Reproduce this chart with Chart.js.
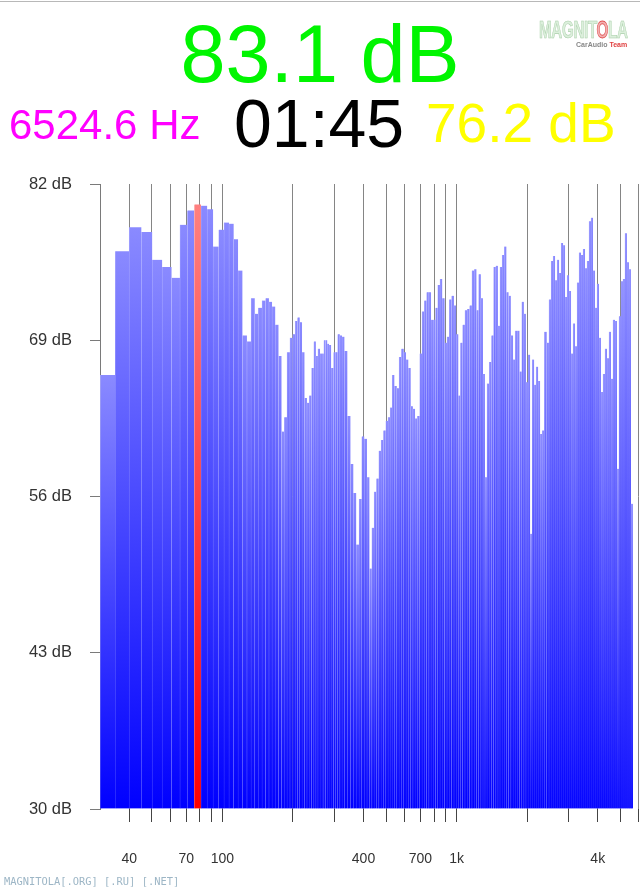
<!DOCTYPE html>
<html>
<head>
<meta charset="utf-8">
<script src="https://cdn.jsdelivr.net/npm/chart.js@4.4.1/dist/chart.umd.min.js"></script>
<style>
  html, body { margin:0; padding:0; background:#fff; width:640px; height:892px; overflow:hidden; }
  body { position:relative; font-family:"Liberation Sans", Arial, Helvetica, sans-serif; }
  #wrap { position:absolute; left:0; top:0; width:640px; height:892px; }
  .t { position:absolute; white-space:nowrap; line-height:1; }
  #topline { position:absolute; left:0; top:1px; width:640px; height:1px; background:#b8b8b8; }
  #peak { left:0; width:640px; text-align:center; top:14px; font-size:81px; color:#00f500; }
  #freq { left:9px; top:104px; font-size:42px; color:#ff00ff; }
  #time { left:234px; top:89px; font-size:68px; color:#000; }
  #avg { left:426px; top:96px; font-size:55px; color:#ffff00; }
  #logo { position:absolute; left:539px; top:18px; width:90px; height:34px; }
  #logo .name { position:absolute; left:0; top:1px; font-family:"Liberation Sans Narrow","Liberation Sans",Arial,sans-serif; font-weight:bold; font-size:23px; line-height:1; color:#dcefdc; -webkit-text-stroke:0.6px #a9cfa9; transform:scaleX(0.66); transform-origin:left top; letter-spacing:-0.5px; }
  #logo .name .o { color:#f2b0b0; -webkit-text-stroke:0.8px #e05050; }
  #logo .team { position:absolute; left:37px; top:23px; font-size:7px; font-weight:bold; color:#888; line-height:1; }
  #logo .team b { color:#e04040; }
  #wm { left:4px; top:876px; font-family:"DejaVu Sans Mono", monospace; font-size:10.4px; color:#9db6c6; }
</style>
</head>
<body>
<div id="wrap"><canvas id="c"></canvas></div>
<div id="topline"></div>
<div class="t" id="peak">83.1 dB</div>
<div class="t" id="freq">6524.6 Hz</div>
<div class="t" id="time">01:45</div>
<div class="t" id="avg">76.2 dB</div>
<div id="logo"><div class="name">MAGNIT<span class="o">O</span>LA</div><div class="team">CarAudio <b>Team</b></div></div>
<div class="t" id="wm">MAGNITOLA[.ORG] [.RU] [.NET]</div>
<script>
// ---- data ----
const freqs = [
  32.4, 37.5, 42.6, 47.7, 52.7, 58.0, 63.4, 68.4, 73.4, 78.5,
  83.5, 88.7, 93.8, 99.0, 104.1, 109.2, 114.1, 119.1, 124.4, 130.0,
  135.0, 139.7, 144.9, 150.2, 155.5, 160.3, 165.4, 170.8, 176.3, 181.2,
  186.1, 191.2, 197.0, 202.2, 206.8, 211.4, 216.0, 221.3, 226.8, 232.0,
  237.3, 243.0, 248.0, 252.9, 258.2, 263.6, 268.5, 273.3, 277.9, 282.6,
  287.6, 294.5, 301.8, 307.1, 313.5, 320.4, 327.4, 336.2, 346.9, 357.2,
  367.2, 377.8, 388.3, 398.0, 408.6, 419.2, 429.2, 439.0, 449.0, 459.7,
  470.2, 480.9, 492.4, 503.6, 514.6, 524.8, 535.7, 548.5, 561.0, 573.8,
  587.5, 600.9, 614.6, 629.2, 643.0, 657.0, 671.3, 687.3, 703.0, 719.0,
  736.1, 752.2, 768.6, 785.4, 803.4, 820.9, 838.8, 858.0, 877.5, 898.5,
  918.9, 939.9, 962.3, 984.2, 1006.7, 1026.6, 1048.0, 1071.9, 1096.4, 1122.5,
  1148.1, 1174.3, 1202.3, 1227.3, 1254.1, 1281.5, 1306.9, 1332.8, 1360.5, 1393.0,
  1422.0, 1453.0, 1484.7, 1514.1, 1545.6, 1579.3, 1613.8, 1647.4, 1683.3, 1721.8,
  1759.3, 1794.2, 1833.3, 1875.2, 1916.1, 1954.1, 1994.7, 2038.2, 2078.6, 2119.8,
  2161.8, 2204.6, 2248.3, 2292.9, 2338.3, 2396.4, 2448.7, 2504.6, 2554.2, 2604.8,
  2656.4, 2709.1, 2762.8, 2817.5, 2873.3, 2930.3, 2988.4, 3047.5, 3107.9, 3169.4,
  3232.2, 3296.3, 3361.6, 3428.2, 3496.2, 3565.5, 3636.1, 3708.2, 3781.7, 3856.6,
  3933.0, 4011.0, 4090.5, 4171.5, 4254.2, 4338.5, 4424.5, 4512.2, 4601.6, 4692.8,
  4785.8, 4880.6, 4977.3, 5075.6, 5176.2, 5278.8, 5383.4, 5490.1, 5598.9
];
const levels = [
  66.1, 76.4, 78.4, 78.0, 75.7, 75.1, 74.2, 78.6, 79.8, 80.3,
  80.2, 79.9, 76.8, 78.2, 78.8, 78.7, 77.4, 74.8, 69.4, 68.9,
  72.5, 71.2, 71.7, 72.3, 72.5, 72.2, 71.8, 70.3, 67.7, 61.4,
  62.6, 68.0, 69.2, 69.5, 70.6, 70.9, 70.5, 68.0, 64.2, 63.8,
  64.4, 66.7, 68.9, 67.7, 68.3, 67.9, 67.9, 69.0, 69.0, 68.7,
  68.6, 66.7, 68.0, 68.0, 69.5, 69.4, 69.3, 68.1, 62.7, 58.7,
  56.3, 52.0, 55.8, 61.0, 60.8, 57.6, 50.0, 53.4, 56.4, 57.5,
  59.8, 60.7, 61.5, 62.3, 62.6, 63.4, 66.1, 65.2, 65.0, 67.6,
  68.3, 68.0, 67.4, 66.7, 63.5, 63.3, 62.5, 62.7, 67.9, 71.4,
  72.3, 73.0, 73.0, 70.7, 70.7, 71.7, 73.6, 74.1, 72.5, 68.8,
  69.3, 72.4, 72.7, 71.9, 69.5, 64.4, 68.8, 70.3, 71.5, 71.6,
  71.9, 74.8, 74.9, 71.5, 74.5, 72.5, 66.2, 57.6, 65.4, 67.2,
  69.4, 75.1, 75.2, 70.2, 75.1, 76.1, 76.8, 73.0, 72.7, 69.4,
  67.4, 69.8, 69.8, 66.4, 72.2, 71.2, 65.5, 67.8, 52.9, 67.4,
  65.3, 66.8, 65.6, 61.2, 61.5, 69.7, 68.8, 72.4, 75.6, 76.0,
  74.0, 75.7, 74.6, 77.1, 76.9, 72.6, 74.4, 73.1, 67.9, 70.4,
  68.5, 73.8, 76.3, 76.1, 76.6, 75.0, 75.6, 78.9, 79.2, 74.8,
  71.7, 73.7, 69.2, 64.7, 66.2, 68.3, 67.5, 69.7, 65.8, 70.7,
  70.6, 58.3, 71.0, 73.9, 74.1, 77.9, 75.5, 74.9, 55.4
];
const markedFreq = 78.5;                 // bar drawn in red
const xGridValues = [40, 50, 60, 70, 80, 90, 100, 200, 300, 400, 500, 600, 700, 800, 900, 1000, 2000, 3000, 4000, 5000, 6000];
const xLabelValues = [40, 70, 100, 400, 700, 1000, 4000];
const yTickValues = [30, 43, 56, 69, 82];
const xMin = 30, xMax = 6060, yMin = 30, yMax = 82;

const points = freqs.map((f, i) => ({ x: f, y: levels[i] }));

function barGradient(c, topRGB, botRGB) {
  const chart = c.chart;
  const area = chart.chartArea;
  if (!area || c.type !== 'data' || !chart.scales.y) return `rgb(${botRGB})`;
  const top = chart.scales.y.getPixelForValue(c.parsed.y);
  const g = chart.ctx.createLinearGradient(0, top, 0, area.bottom);
  g.addColorStop(0, `rgb(${topRGB})`);
  g.addColorStop(1, `rgb(${botRGB})`);
  return g;
}

new Chart(document.getElementById('c'), {
  type: 'bar',
  data: {
    datasets: [{
      data: points,
      base: yMin,
      barThickness: 'flex',
      categoryPercentage: 1,
      barPercentage: 1,
      borderSkipped: 'start',
      borderWidth: { left: 0.6, top: 0, right: 0, bottom: 0 },
      backgroundColor: c => (c.raw && c.raw.x === markedFreq)
        ? barGradient(c, '255,128,128', '255,0,0')
        : barGradient(c, '138,138,255', '0,0,255'),
      borderColor: c => (c.raw && c.raw.x === markedFreq)
        ? barGradient(c, '255,175,175', '255,70,70')
        : barGradient(c, '180,180,255', '70,70,255')
    }]
  },
  options: {
    responsive: true,
    maintainAspectRatio: false,
    animation: false,
    events: [],
    layout: { padding: { top: 184, left: 0, right: 0, bottom: 0 } },
    plugins: { legend: { display: false }, tooltip: { enabled: false } },
    scales: {
      x: {
        type: 'logarithmic',
        min: xMin,
        max: xMax,
        offset: false,
        z: 1,
        border: { display: false },
        grid: { offset: false, color: '#858585', lineWidth: 1, tickLength: 13, tickColor: '#444', drawOnChartArea: true },
        afterBuildTicks: s => { s.ticks = xGridValues.map(v => ({ value: v })); },
        afterFit: s => { s.height = 83; s.paddingLeft = 0; s.paddingRight = 0; },
        ticks: {
          autoSkip: false,
          maxRotation: 0,
          padding: 29,
          color: '#333',
          font: { family: 'Liberation Sans', size: 14 },
          callback: v => xLabelValues.includes(v) ? (v >= 1000 ? (v / 1000) + 'k' : String(v)) : ''
        }
      },
      y: {
        type: 'linear',
        min: yMin,
        max: yMax,
        z: 1,
        border: { display: true, color: '#7a7a7a', width: 1 },
        grid: { drawOnChartArea: false, tickLength: 10, color: '#7a7a7a' },
        afterBuildTicks: s => { s.ticks = yTickValues.map(v => ({ value: v })); },
        afterFit: s => { s.width = 100; s.paddingTop = 0; s.paddingBottom = 0; },
        ticks: {
          padding: 18,
          color: '#333',
          font: { family: 'Liberation Sans', size: 16.5 },
          callback: v => v + ' dB'
        }
      }
    }
  }
});
</script>
</body>
</html>
